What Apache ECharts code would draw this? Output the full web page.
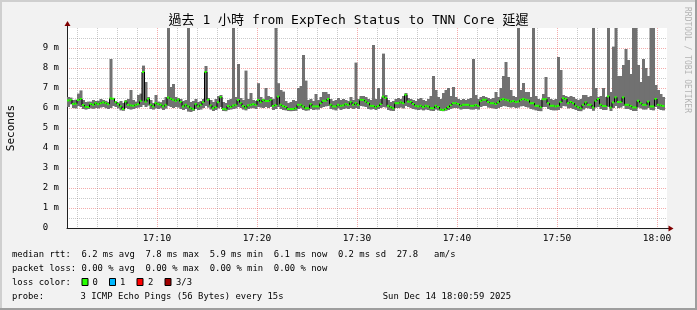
<!DOCTYPE html>
<html><head><meta charset="utf-8">
<script src="https://cdn.jsdelivr.net/npm/echarts@6/dist/echarts.min.js"></script>
<style>html,body{margin:0;padding:0;background:#f2f2f2;overflow:hidden}#c{width:697px;height:310px}</style>
</head><body><div id="c"></div>
<script>
// ---------------- data ----------------
const chartTitle = '過去 1 小時 from ExpTech Status to TNN Core 延遲';
const yAxisName = 'Seconds';
const startMinute = 1;        // 17:01
const stepMinutes = 0.25;     // one sample every 15 s
const xTickMinutes = [10, 20, 30, 40, 50, 60];
const xTickLabels = ['17:10', '17:20', '17:30', '17:40', '17:50', '18:00'];
const yTickValues = [0, 1, 2, 3, 4, 5, 6, 7, 8, 9];
const yTickLabels = ['0  ', '1 m', '2 m', '3 m', '4 m', '5 m', '6 m', '7 m', '8 m', '9 m'];

// median rtt (ms) per 15 s sample
const medianMs = [
6.38,6.40,6.20,6.22,6.40,6.45,6.15,6.06,6.05,6.20,
6.16,6.24,6.19,6.24,6.28,6.24,6.19,6.48,6.46,6.29,
6.19,6.08,5.95,6.32,6.16,6.13,6.11,6.16,6.19,6.36,
7.80,6.32,6.46,6.16,6.08,6.24,6.19,6.16,6.08,6.16,
6.52,6.46,6.41,6.36,6.42,6.30,6.08,6.16,6.08,5.99,
5.94,6.19,6.08,6.16,6.29,7.80,6.41,6.13,5.99,6.05,
6.29,6.54,5.95,5.94,6.10,6.05,6.12,6.16,6.40,6.24,
6.10,6.02,6.13,6.16,6.19,6.16,6.40,6.29,6.40,6.35,
6.35,6.40,6.10,6.15,6.57,6.16,6.10,6.05,5.95,5.95,
5.95,5.99,6.16,6.16,6.08,5.99,5.99,6.19,6.08,6.08,
6.08,6.24,6.36,6.36,6.45,6.16,6.08,6.08,6.16,6.11,
6.13,6.19,6.16,6.29,6.16,6.24,6.16,6.41,6.40,6.32,
6.24,6.11,6.10,6.04,6.10,6.20,6.57,6.50,6.11,6.04,
5.99,6.24,6.24,6.28,6.24,6.66,6.32,6.30,6.20,6.11,
6.08,6.11,6.05,6.11,6.08,5.99,5.99,6.11,6.05,5.92,
5.90,5.95,6.05,6.15,6.24,6.24,6.20,6.11,6.16,6.16,
6.16,6.11,6.11,6.15,6.11,6.35,6.41,6.41,6.30,6.24,
6.24,6.20,6.28,6.41,6.45,6.41,6.38,6.32,6.35,6.30,
6.32,6.41,6.45,6.41,6.38,6.24,6.24,6.11,6.11,6.04,
6.44,6.44,6.24,6.11,6.11,6.08,6.11,6.30,6.49,6.45,
6.24,6.30,6.24,6.11,6.04,5.99,6.16,6.28,6.16,6.16,
6.03,6.36,6.45,6.16,6.10,6.10,6.58,6.03,6.28,6.53,
6.30,6.30,6.53,6.16,6.16,6.10,6.03,6.03,6.36,6.24,
6.16,6.16,6.32,6.08,6.08,6.45,6.16,6.13,6.10
];
// fastest ping (ms) per sample
const minMs = [
6.05,6.18,6.00,5.98,6.10,6.05,5.95,5.92,5.95,5.98,
5.96,6.00,5.98,6.02,6.05,5.99,5.95,6.00,6.10,6.05,
5.98,5.88,5.86,6.00,5.95,5.92,5.95,6.00,6.02,6.05,
6.15,6.05,6.12,5.95,5.92,5.98,5.95,5.98,5.90,5.97,
6.10,6.05,6.00,6.05,6.02,5.95,5.90,5.95,5.82,5.80,
5.85,5.95,5.90,5.92,6.00,6.10,6.02,5.92,5.85,5.90,
5.98,6.05,5.85,5.84,5.90,5.92,5.95,5.98,6.05,6.00,
5.92,5.88,5.95,5.98,6.00,5.95,6.05,6.02,6.00,6.05,
6.00,6.05,5.90,5.95,6.05,5.95,5.90,5.88,5.85,5.84,
5.85,5.86,5.95,5.98,5.90,5.86,5.88,5.95,5.90,5.92,
5.92,6.00,6.05,6.08,6.10,5.95,5.92,5.88,5.98,5.90,
5.95,5.98,5.95,6.00,5.95,6.00,5.95,6.10,6.08,6.05,
5.95,5.92,5.95,5.90,5.95,6.00,6.05,6.02,5.90,5.86,
5.85,6.00,6.00,6.02,5.98,6.10,6.05,6.00,5.95,5.92,
5.90,5.92,5.88,5.92,5.90,5.86,5.85,5.92,5.88,5.85,
5.84,5.86,5.90,5.95,6.00,6.00,5.98,5.92,5.95,5.95,
5.95,5.92,5.92,5.95,5.92,6.05,6.10,6.10,6.02,6.00,
5.98,5.95,6.00,6.05,6.10,6.08,6.05,6.02,6.05,6.00,
6.02,6.08,6.10,6.05,6.02,5.95,5.92,5.88,5.85,5.84,
6.05,6.05,5.95,5.90,5.88,5.88,5.90,6.00,6.10,6.08,
5.98,6.00,5.95,5.90,5.85,5.84,5.92,6.00,5.98,5.95,
5.86,6.02,6.05,5.95,5.90,5.90,6.05,5.85,6.00,6.10,
6.00,6.02,6.10,5.95,5.95,5.90,5.85,5.85,6.02,5.98,
5.92,5.92,6.00,5.90,5.88,6.05,5.95,5.90,5.88
];
// slowest ping (ms) per sample
const maxMs = [
6.55,6.52,6.40,6.42,6.72,6.88,6.40,6.30,6.32,6.32,
6.40,6.35,6.36,6.45,6.40,6.36,6.30,8.45,6.50,6.32,
6.28,6.35,6.25,6.40,6.45,6.90,6.40,6.32,6.65,6.72,
8.12,7.30,6.55,6.40,6.25,6.65,6.32,6.29,6.40,6.55,
12.4,7.05,7.20,6.55,6.50,6.45,6.35,6.40,11.8,6.30,
6.35,6.45,6.30,6.35,6.45,8.10,6.50,6.40,6.30,6.45,
6.60,6.65,6.30,6.25,6.40,6.45,12.1,6.55,8.20,6.50,
6.40,7.87,6.45,6.75,6.40,6.35,7.24,6.55,6.45,7.00,
6.60,6.55,6.45,11.6,7.24,6.90,6.82,6.35,6.25,6.30,
6.40,6.35,7.00,7.10,8.65,7.37,6.40,6.45,6.35,6.70,
6.40,6.55,6.80,6.80,6.70,6.45,6.35,6.40,6.50,6.40,
6.45,6.40,6.35,6.55,6.40,8.27,6.45,6.60,6.60,6.55,
6.45,6.40,9.15,6.45,7.00,6.45,8.72,6.65,6.40,6.30,
6.35,6.45,6.50,6.45,6.60,6.75,6.50,6.45,6.40,6.35,
6.45,6.50,6.40,6.35,6.45,6.60,7.60,6.90,6.55,6.45,
6.75,6.90,7.00,6.60,7.05,6.55,6.45,6.40,6.45,6.40,
6.45,6.50,8.45,6.65,6.45,6.55,6.60,6.55,6.50,6.45,
6.50,6.80,6.55,7.00,7.60,8.30,7.55,6.90,6.60,6.55,
11.9,6.90,7.25,6.80,6.80,6.55,12.2,6.60,6.45,6.40,
6.70,7.55,6.55,6.45,6.40,6.45,8.55,7.90,6.65,6.60,
6.55,6.60,6.55,6.45,6.40,6.45,6.65,6.65,6.55,6.60,
12.3,7.00,6.55,6.60,7.00,6.55,11.7,6.80,9.07,12.0,
7.60,7.60,8.15,8.95,8.40,7.70,12.5,11.9,8.15,7.30,
8.45,8.00,7.60,12.2,11.8,7.15,6.90,6.70,6.55
];

const legendRtt  = 'median rtt:  6.2 ms avg  7.8 ms max  5.9 ms min  6.1 ms now  0.2 ms sd  27.8   am/s';
const legendLoss = 'packet loss: 0.00 % avg  0.00 % max  0.00 % min  0.00 % now';
const legendLossLabel = 'loss color:';
const lossNames  = ['0', '1', '2', '3/3'];
const lossColors = ['#26ff00', '#00b8ff', '#ff0000', '#a00000'];
const probeLabel = 'probe:';
const probeText  = '3 ICMP Echo Pings (56 Bytes) every 15s';
const stampText  = 'Sun Dec 14 18:00:59 2025';
const watermark  = 'RRDTOOL / TOBI OETIKER';

// ---------------- chart ----------------
const MONO = "'DejaVu Sans Mono', monospace";
const GRID = 'rgba(128,128,128,0.42)';
const MGRID = 'rgba(230,70,70,0.45)';
const NONE = 'rgba(0,0,0,0)';

const smokeData = medianMs.map((m, i) => [startMinute + i * stepMinutes, minMs[i], maxMs[i]]);
const medData = medianMs.map((m, i) => [startMinute + i * stepMinutes, m, i > 0 ? medianMs[i - 1] : m]);

// vertical grid colours cycle per minute tick (starting at 17:01)
const xGridColors = [];
for (let k = 0; k < 10; k++) {
  const minute = startMinute + k;
  xGridColors.push(minute % 10 === 0 ? MGRID : (minute % 2 === 0 ? GRID : NONE));
}

function renderSmoke(params, api) {
  const t = api.value(0);
  const a = api.coord([t, api.value(2)]);
  const b = api.coord([t + stepMinutes, api.value(1)]);
  const cs = params.coordSys;
  const top = Math.max(a[1], cs.y);
  const bottom = Math.min(b[1], cs.y + cs.height);
  return { type: 'rect', shape: { x: a[0], y: top, width: b[0] - a[0] + 0.5, height: bottom - top },
           style: { fill: '#717171' } };
}
function renderMedian(params, api) {
  const t = api.value(0);
  const p = api.coord([t, api.value(1)]);
  const q = api.coord([t + stepMinutes, api.value(1)]);
  const prev = api.coord([t, api.value(2)]);
  return { type: 'group', children: [
    { type: 'line', shape: { x1: p[0], y1: prev[1], x2: p[0], y2: p[1] }, style: { stroke: '#000', lineWidth: 1 } },
    { type: 'rect', shape: { x: p[0], y: p[1] - 1, width: q[0] - p[0], height: 2 }, style: { fill: lossColors[0] } }
  ] };
}

const chart = echarts.init(document.getElementById('c'), null, { renderer: 'canvas', width: 697, height: 310 });
chart.setOption({
  animation: false,
  backgroundColor: '#f2f2f2',
  title: { text: chartTitle, left: 'center', top: 14, padding: 0,
    textStyle: { fontFamily: "'DejaVu Sans Mono','Noto Sans CJK TC',monospace", fontSize: 13, fontWeight: 'normal', color: '#000' } },
  grid: { left: 67, top: 28, width: 600, height: 200, show: true, backgroundColor: '#ffffff', borderWidth: 0,
          containLabel: false, outerBoundsMode: 'none' },
  xAxis: {
    type: 'value', min: startMinute, max: startMinute + 60, interval: 1,
    axisLine: { show: true, onZero: false, lineStyle: { color: '#202020', width: 1 } },
    axisTick: { show: false },
    axisLabel: { fontFamily: MONO, fontSize: 9.5, color: '#000', margin: 6, showMinLabel: true, showMaxLabel: true,
      formatter: v => { const k = xTickMinutes.indexOf(Math.round(v)); return k >= 0 ? xTickLabels[k] : ''; } },
    splitLine: { show: true, lineStyle: { color: xGridColors, type: [1, 1], width: 1 } }
  },
  yAxis: {
    type: 'value', min: 0, max: 10, interval: 0.5,
    name: yAxisName, nameLocation: 'middle', nameGap: 50, nameRotate: 90,
    nameTextStyle: { fontFamily: MONO, fontSize: 11, color: '#000' },
    axisLine: { show: true, lineStyle: { color: '#202020', width: 1 } },
    axisTick: { show: false },
    axisLabel: { fontFamily: MONO, fontSize: 9, color: '#000', margin: 8,
      formatter: v => { const k = yTickValues.indexOf(v); return k >= 0 ? yTickLabels[k] : ''; } },
    splitLine: { show: true, showMaxLine: false, lineStyle: { color: [MGRID, GRID], type: [1, 1], width: 1 } }
  },
  series: [
    { type: 'custom', name: 'smoke', data: smokeData, renderItem: renderSmoke, z: 2, silent: true },
    { type: 'custom', name: 'median', data: medData, renderItem: renderMedian, z: 3, silent: true }
  ]
});

// decorations: axis arrows, legend block, frame
const o = chart.convertToPixel({ gridIndex: 0 }, [startMinute, 0]);
const tr = chart.convertToPixel({ gridIndex: 0 }, [startMinute + 60, 10]);
const ARROW = '#800000';
const txt = (text, x, y, extra) => Object.assign({ type: 'text', silent: true,
  style: Object.assign({ text, x, y, fill: '#000', fontFamily: MONO, fontSize: 8.9, verticalAlign: 'middle' }, extra || {}) });
const g = [
  { type: 'line', silent: true, shape: { x1: o[0] + 0.5, y1: tr[1], x2: o[0] + 0.5, y2: tr[1] - 4 }, style: { stroke: '#202020', lineWidth: 1 } },
  { type: 'polygon', silent: true, shape: { points: [[o[0] - 2.5, tr[1] - 2], [o[0] + 3.5, tr[1] - 2], [o[0] + 0.5, tr[1] - 7]] }, style: { fill: ARROW } },
  { type: 'line', silent: true, shape: { x1: tr[0], y1: o[1] + 0.5, x2: tr[0] + 2, y2: o[1] + 0.5 }, style: { stroke: '#202020', lineWidth: 1 } },
  { type: 'polygon', silent: true, shape: { points: [[tr[0] + 1.5, o[1] - 2.5], [tr[0] + 1.5, o[1] + 3.5], [tr[0] + 6.5, o[1] + 0.5]] }, style: { fill: ARROW } },
  txt(legendRtt, 12, 255),
  txt(legendLoss, 12, 268.5),
  txt(legendLossLabel, 12, 282.5),
  txt(probeLabel, 12, 296.5),
  txt(probeText, 80.5, 296.5),
  txt(stampText, 511, 296.5, { align: 'right' }),
  { type: 'text', silent: true, rotation: -Math.PI / 2, x: 687, y: 60,
    style: { text: watermark, fill: '#b4b4b4', fontFamily: MONO, fontSize: 8, align: 'center', verticalAlign: 'middle' } },
  { type: 'rect', silent: true, shape: { x: 0, y: 0, width: 697, height: 2 }, style: { fill: '#cfcfcf' } },
  { type: 'rect', silent: true, shape: { x: 0, y: 0, width: 2, height: 310 }, style: { fill: '#cfcfcf' } },
  { type: 'rect', silent: true, shape: { x: 0, y: 308, width: 697, height: 2 }, style: { fill: '#9e9e9e' } },
  { type: 'rect', silent: true, shape: { x: 695, y: 0, width: 2, height: 310 }, style: { fill: '#9e9e9e' } }
];
const boxX = [81.5, 109, 136.5, 164.5];
const nameX = [92.5, 120, 148, 176];
lossNames.forEach((n, i) => {
  g.push({ type: 'rect', silent: true, shape: { x: boxX[i] + 0.5, y: 278.5, width: 6, height: 7 }, style: { fill: lossColors[i], stroke: '#000', lineWidth: 1 } });
  g.push(txt(n, nameX[i], 282.5));
});
chart.setOption({ graphic: g });
</script>
</body></html>
